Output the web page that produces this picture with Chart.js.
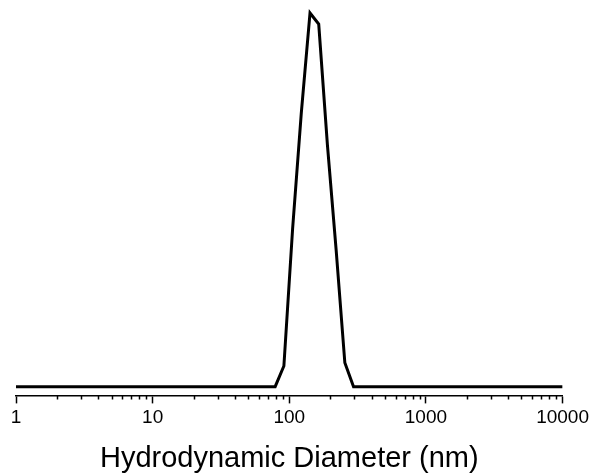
<!DOCTYPE html>
<html>
<head>
<meta charset="utf-8">
<script src="https://cdn.jsdelivr.net/npm/chart.js@4/dist/chart.umd.min.js"></script>
<style>
  html, body { margin: 0; padding: 0; background: #fff; }
  canvas { display: block; }
</style>
</head>
<body>
<canvas id="dlsChart" width="592" height="476"></canvas>
<script>
// Tamaños de partícula (nm), bins del equipo
const diameters = [0.4, 0.4632, 0.5365, 0.6213, 0.7195, 0.8332, 0.9649, 1.117, 1.294, 1.499,
    1.736, 2.01, 2.328, 2.696, 3.122, 3.615, 4.187, 4.849, 5.615, 6.503,
    7.531, 8.721, 10.1, 11.7, 13.54, 15.69, 18.17, 21.04, 24.36, 28.21,
    32.67, 37.84, 43.82, 50.75, 58.77, 68.06, 78.82, 91.28, 105.7, 122.4,
    141.8, 164.2, 190.1, 220.2, 255.0, 295.3, 342.0, 396.1, 458.7, 531.2,
    615.1, 712.4, 825.0, 955.4, 1106, 1281, 1484, 1718, 1990, 2305,
    2669, 3091, 3580, 4145, 4801, 5560, 6439, 7456, 8635, 10000];

// Intensidad (%) por bin
const intensity = [0, 0, 0, 0, 0, 0, 0, 0, 0, 0,
    0, 0, 0, 0, 0, 0, 0, 0, 0, 0,
    0, 0, 0, 0, 0, 0, 0, 0, 0, 0,
    0, 0, 0, 0, 0, 0, 0, 1.3, 9.9, 17.2,
    23.5, 22.8, 15.2, 8.6, 1.5, 0, 0, 0, 0, 0,
    0, 0, 0, 0, 0, 0, 0, 0, 0, 0,
    0, 0, 0, 0, 0, 0, 0, 0, 0, 0];

const majorTicks = [1, 10, 100, 1000, 10000];
const minorSteps = [2, 3, 4, 5, 6, 7, 8, 9];

// Marcas menores del eje logarítmico
const minorTickPlugin = {
    id: 'minorTicks',
    afterDraw(chart) {
        const xs = chart.scales.x;
        const ctx = chart.ctx;
        ctx.save();
        ctx.strokeStyle = '#000';
        ctx.lineWidth = 1.5;
        ctx.beginPath();
        majorTicks.slice(0, -1).forEach(function(base) {
            minorSteps.forEach(function(m) {
                const px = Math.round(xs.getPixelForValue(base * m)) + 0.5;
                ctx.moveTo(px, xs.top);
                ctx.lineTo(px, xs.top + 4);
            });
        });
        ctx.stroke();
        ctx.restore();
    }
};

const fontFamily = '"Liberation Sans", Arial, Helvetica, sans-serif';

new Chart(document.getElementById('dlsChart').getContext('2d'), {
    type: 'line',
    data: {
        datasets: [{
            data: diameters.map(function(d, i) { return { x: d, y: intensity[i] }; }),
            borderColor: '#000',
            borderWidth: 3,
            pointRadius: 0,
            tension: 0,
            fill: false
        }]
    },
    options: {
        responsive: false,
        animation: false,
        layout: { padding: { left: 16, right: 29, top: 5, bottom: 0 } },
        plugins: {
            legend: { display: false },
            tooltip: { enabled: false }
        },
        scales: {
            x: {
                type: 'logarithmic',
                min: 1,
                max: 10000,
                afterBuildTicks: function(scale) {
                    scale.ticks = majorTicks.map(function(v) { return { value: v }; });
                },
                border: { display: true, color: '#000', width: 1.5 },
                grid: {
                    display: true,
                    drawOnChartArea: false,
                    drawTicks: true,
                    tickLength: 8,
                    tickColor: '#000',
                    tickWidth: 1.5
                },
                ticks: {
                    autoSkip: false,
                    maxRotation: 0,
                    padding: 3,
                    color: '#000',
                    font: { family: fontFamily, size: 19 },
                    callback: function(value) { return String(value); }
                },
                title: {
                    display: true,
                    text: 'Hydrodynamic Diameter (nm)',
                    color: '#000',
                    font: { family: fontFamily, size: 29 },
                    padding: { top: 9, bottom: 0 }
                }
            },
            y: {
                display: false,
                min: -0.55,
                max: 24
            }
        }
    },
    plugins: [minorTickPlugin]
});
</script>
</body>
</html>
